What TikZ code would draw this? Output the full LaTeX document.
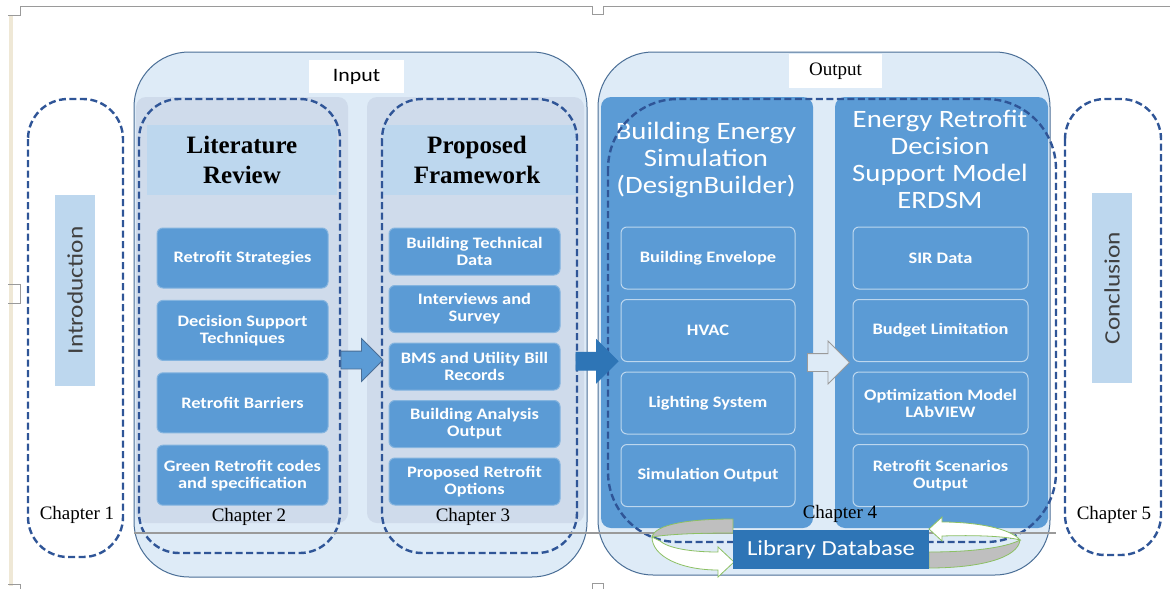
\documentclass[tikz,border=0pt]{standalone}
\usepackage{fontspec}
\setmainfont{Liberation Serif}
\newfontfamily\carl[FakeStretch=1.15]{Carlito}
\usetikzlibrary{shapes.arrows, calc}

\definecolor{inbg}{HTML}{DEEBF7}
\definecolor{panelgray}{HTML}{CFDBEB}
\definecolor{hdrblue}{HTML}{BDD7EE}
\definecolor{itemblue}{HTML}{5B9BD5}
\definecolor{dashblue}{HTML}{2F5597}
\definecolor{darkblue}{HTML}{2E75B6}
\definecolor{rimblue}{HTML}{4A6E96}
\definecolor{ringgreen}{HTML}{8CC063}
\definecolor{pagegray}{HTML}{9A9A9A}
\definecolor{pagetan}{HTML}{EFE8D6}

\tikzset{
  chapbox/.style={draw=dashblue, line width=2.4pt, dash pattern=on 7pt off 3.5pt, rounded corners=40pt},
  bigbox/.style={draw=rimblue, line width=1pt, fill=inbg, rounded corners=55pt},
  panel/.style={rectangle, rounded corners=10pt, inner sep=0pt},
  item/.style={rectangle, rounded corners=6pt, fill=itemblue, line width=1pt, text=white,
    font=\carl\bfseries\fontsize{16}{17}\selectfont, align=center, inner sep=0pt},
  title/.style={font=\bfseries\fontsize{25}{30}\selectfont, align=center},
  subtitle/.style={text=white, font=\carl\fontsize{25}{27}\selectfont, align=center},
  chaplabel/.style={font=\fontsize{19}{20}\selectfont},
  sidebar/.style={rectangle, fill=hdrblue, minimum width=40pt, inner sep=0pt, text=black!75,
    font=\carl\fontsize{22}{22}\selectfont},
  blockarrow/.style={single arrow, inner sep=8.5pt, single arrow head extend=12.5pt,
    minimum height=42pt, line width=0.8pt},
}

\begin{document}
\begin{tikzpicture}[x=1pt,y=-1pt]
\useasboundingbox (0,0) rectangle (1170,589);

% page marks
\draw[pagetan, line width=4pt] (11,15)--(11,586);
\draw[pagegray, line width=0.8pt] (8,15)--(20,15)--(20,6)--(592,6)--(592,14)--(603,14)--(603,6)--(1170,6);
\draw[pagegray, line width=0.8pt] (8,284)--(20,284)--(20,303)--(8,303);
\draw[pagegray, line width=0.8pt] (8,584)--(20,584)--(20,589);
\draw[pagegray, line width=0.8pt] (592,589)--(592,583)--(603,583)--(603,589);

% input / output frames
\draw[bigbox] (134,52) rectangle (587,577);
\draw[bigbox] (598,52) rectangle (1050,575);

% input panels
\node[panel, fill=panelgray, minimum width=212pt, minimum height=426pt] (litpanel) at (242,310) {};
\node[panel, fill=panelgray, minimum width=217pt, minimum height=426pt] (proppanel) at (475.5,310) {};
\fill[hdrblue] (147,125) rectangle (337,195);
\fill[hdrblue] (383,125) rectangle (576,195);
\node[title] (littitle) at (242,160) {Literature\\Review};
\node[title] (proptitle) at (477,160) {Proposed\\Framework};
\node[fill=white, minimum width=95pt, minimum height=33pt, inner sep=0pt,
  font=\carl\fontsize{19}{19}\selectfont] (inlabel) at (356.5,76.5) {Input};

% output panels
\node[panel, fill=itemblue, minimum width=212pt, minimum height=431pt] (bespanel) at (707,312.5) {};
\node[panel, fill=itemblue, minimum width=213pt, minimum height=431pt] (erdpanel) at (941.5,312.5) {};
\node[fill=white, minimum width=93pt, minimum height=34pt, inner sep=0pt,
  font=\fontsize{19}{19}\selectfont] (outlabel) at (835.5,71) {Output};
\node[subtitle] (bestitle) at (706,160) {Building Energy\\Simulation\\(DesignBuilder)};
\node[subtitle] (erdtitle) at (940,159) {Energy Retrofit\\Decision\\Support Model\\ERDSM};

% items
\foreach \t [count=\i] in {Retrofit Strategies, Decision Support\\Techniques, Retrofit Barriers, Green Retrofit codes\\and specification}
  \node[item, draw=itemblue!75!white, minimum width=171pt, minimum height=60pt] (lit\i) at (242.5,{258+72.4*(\i-1)}) {\t};
\foreach \t [count=\i] in {Building Technical\\Data, Interviews and\\Survey, BMS and Utility Bill\\Records, Building Analysis\\Output, Proposed Retrofit\\Options}
  \node[item, draw=itemblue!75!white, minimum width=171pt, minimum height=47pt] (prop\i) at (474.5,{251.5+57.5*(\i-1)}) {\t};
\foreach \t [count=\i] in {Building Envelope, HVAC, Lighting System, Simulation Output}
  \node[item, draw=hdrblue, minimum width=174pt, minimum height=62pt] (bes\i) at (708,{258+72.5*(\i-1)}) {\t};
\foreach \t [count=\i] in {SIR Data, Budget Limitation, Optimization Model\\LAbVIEW, Retrofit Scenarios\\Output}
  \node[item, draw=hdrblue, minimum width=175pt, minimum height=62pt] (erd\i) at (940.5,{258+72.5*(\i-1)}) {\t};

% side bars
\node[sidebar, minimum height=191pt] (intro) at (75,290.5) {\rotatebox{90}{Introduction}};
\node[sidebar, minimum height=190pt] (concl) at (1112,288) {\rotatebox{90}{Conclusion}};

% chapter outlines
\draw[chapbox] (28,99) rectangle (123,557);
\draw[chapbox] (139,99) rectangle (340,553);
\draw[chapbox] (382,99) rectangle (577,553);
\draw[chapbox, rounded corners=70pt] (608,99) rectangle (1056,542);
\draw[chapbox] (1065,99) rectangle (1161,555);
\node[chaplabel] (ch1) at (77,515) {Chapter 1};
\node[chaplabel] (ch2) at (249,517) {Chapter 2};
\node[chaplabel] (ch3) at (473,517) {Chapter 3};
\node[chaplabel] (ch4) at (840,514) {Chapter 4};
\node[chaplabel] (ch5) at (1114,515) {Chapter 5};

\draw[pagegray, line width=1.2pt] (134,533)--(1056,533);

% block arrows
\node[blockarrow, fill=itemblue, draw=rimblue] (arr1) at ($(litpanel.east)!0.5!(proppanel.west)+(0,50)$) {};
\node[blockarrow, fill=darkblue, draw=darkblue] (arr2) at ($(proppanel.east)!0.5!(bespanel.west)+(0,50)$) {};
\node[blockarrow, fill=inbg, draw=pagegray] (arr3) at ($(bespanel.east)!0.5!(erdpanel.west)+(0,50)$) {};

% library loops
\draw[ringgreen, fill=black!25, line width=0.8pt] (733,519) .. controls (690,519) and (655,524) .. (652,537)
  .. controls (670,534) and (700,533) .. (733,533) -- cycle;
\draw[ringgreen, fill=white, line width=0.8pt] (652,537) .. controls (652,556) and (680,570) .. (718,570)
  -- (718,577) -- (734,562) -- (718,547) -- (718,552) .. controls (690,552) and (668,548) .. (660,541) -- cycle;
\draw[ringgreen, fill=black!25, line width=0.8pt] (929,552) .. controls (970,552) and (1005,548) .. (1020,540)
  .. controls (1018,558) and (980,568) .. (929,568) -- cycle;
\draw[ringgreen, fill=white, line width=0.8pt] (929,529) -- (942,517) -- (942,522) .. controls (975,522) and (1010,528) .. (1020,540)
  .. controls (1005,536) and (975,535) .. (942,536) -- (942,541) -- cycle;
\node[fill=darkblue, minimum width=196pt, minimum height=39pt, inner sep=0pt, text=white,
  font=\carl\fontsize{21.5}{22}\selectfont] (libdb) at (831,549.5) {Library Database};
\end{tikzpicture}
\end{document}
